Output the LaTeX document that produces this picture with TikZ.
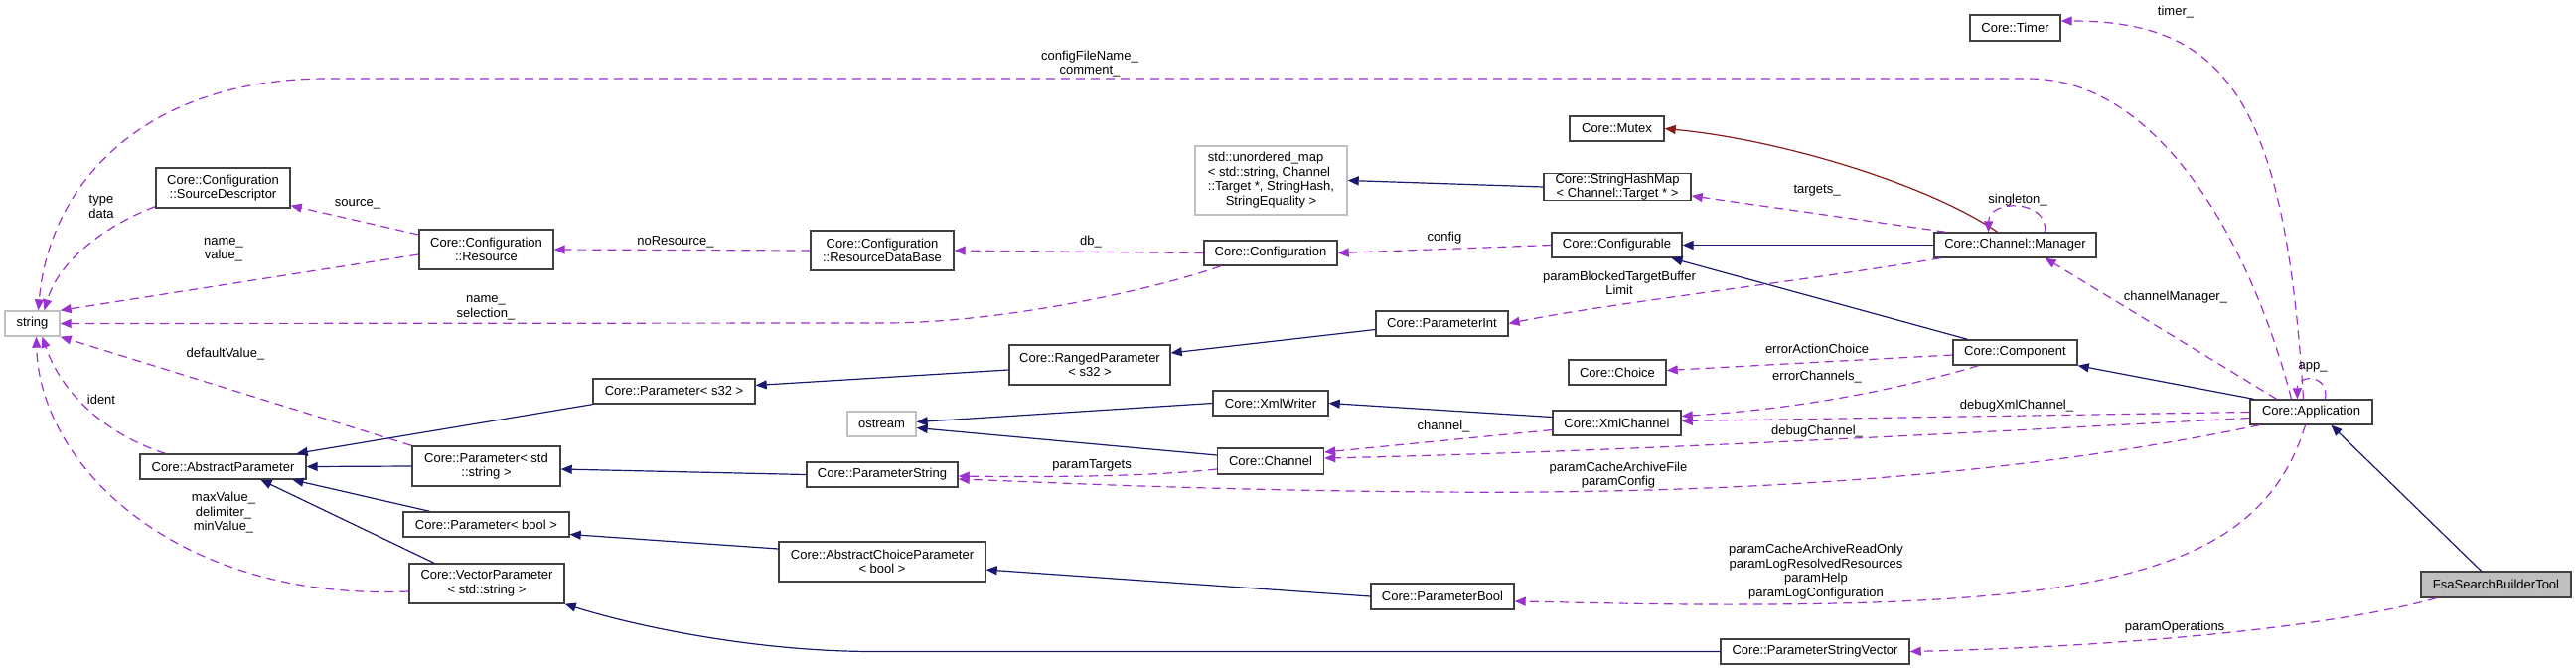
\documentclass[tikz,border=0pt]{standalone}
\usepackage{fontspec}
\setmainfont{Liberation Sans}
\usetikzlibrary{arrows.meta}
\definecolor{inhblue}{HTML}{191970}
\definecolor{usepurple}{HTML}{9A32CD}
\definecolor{privred}{HTML}{8B1A1A}
\definecolor{extgray}{HTML}{BFBFBF}
\definecolor{boxline}{HTML}{404040}

\begin{document}
\begin{tikzpicture}[
    x=1pt, y=-1pt,
    font=\fontsize{13}{14.5}\selectfont,
    cls/.style={draw=boxline, line width=1.4pt, fill=white, inner sep=0pt,
        align=center, minimum height=25pt},
    cls2/.style={cls, minimum height=40pt},
    ext/.style={cls, draw=extgray},
    lbl/.style={inner sep=0pt, align=center},
    inherit/.style={draw=inhblue, line width=1.2pt, -{Triangle[length=11pt,width=9pt]}},
    privinh/.style={inherit, draw=privred},
    uses/.style={draw=usepurple, line width=1.2pt, dash pattern=on 9pt off 6pt,
        -{Triangle[length=11pt,width=9pt]}},
]
\useasboundingbox (0,0) rectangle (2593,675);

% External classes
\node[ext, minimum width=55pt] (stdstring) at (32.5, 325.5) {string};
\node[ext, minimum width=69pt] (ostream) at (887.5, 426.5) {ostream};
\node[ext, minimum width=153pt, minimum height=69pt] (umap) at (1279.5, 181.5)
    {\begin{tabular}{@{}l@{}}std::unordered\_map\\< std::string, Channel\\::Target *, StringHash,\\\multicolumn{1}{@{}c@{}}{StringEquality >}\end{tabular}};

% Configuration
\node[cls2, minimum width=135pt] (srcdesc) at (224.5, 189) {Core::Configuration\\::SourceDescriptor};
\node[cls2, minimum width=135pt] (resource) at (489.5, 251) {Core::Configuration\\::Resource};
\node[cls2, minimum width=144pt] (resdb) at (888, 252) {Core::Configuration\\::ResourceDataBase};
\node[cls, minimum width=134pt] (configuration) at (1279, 254.5) {Core::Configuration};
\node[cls, minimum width=131pt] (configurable) at (1627.5, 246.5) {Core::Configurable};

% Parameters
\node[cls, minimum width=167pt] (absparam) at (224.5, 469.5) {Core::AbstractParameter};
\node[cls, minimum width=163pt] (params32) at (678.5, 393.5) {Core::Parameter< s32 >};
\node[cls2, minimum width=149pt] (paramstdstr) at (489.5, 469) {Core::Parameter< std\\::string >};
\node[cls, minimum width=167pt] (parambool) at (489.5, 527.5) {Core::Parameter< bool >};
\node[cls2, minimum width=156pt] (vecparam) at (490, 587) {Core::VectorParameter\\< std::string >};
\node[cls2, minimum width=162pt] (ranged) at (1097, 367) {Core::RangedParameter\\< s32 >};
\node[cls, minimum width=133pt] (paramint) at (1451.5, 325.5) {Core::ParameterInt};
\node[cls, minimum width=152pt] (paramstring) at (888, 477.5) {Core::ParameterString};
\node[cls2, minimum width=208pt] (abschoice) at (888, 565) {Core::AbstractChoiceParameter\\< bool >};
\node[cls, minimum width=144pt, minimum height=26pt] (paramboolc) at (1452, 600) {Core::ParameterBool};
\node[cls, minimum width=190pt] (pstrvec) at (1827, 655.5) {Core::ParameterStringVector};

% Channels
\node[cls, minimum width=116pt] (xmlwriter) at (1279, 405.5) {Core::XmlWriter};
\node[cls, minimum width=107pt, minimum height=26pt] (channel) at (1279, 464) {Core::Channel};
\node[cls, minimum width=129pt] (xmlchannel) at (1627.5, 425.5) {Core::XmlChannel};
\node[cls, minimum width=148pt] (shmap) at (1628, 188) {Core::StringHashMap\\< Channel::Target * >};
\node[cls, minimum width=95pt] (mutex) at (1627.5, 129.5) {Core::Mutex};
\node[cls, minimum width=163pt] (manager) at (2028.5, 246.5) {Core::Channel::Manager};

% Application
\node[cls, minimum width=98pt] (choice) at (1628, 374.5) {Core::Choice};
\node[cls, minimum width=125pt] (component) at (2028.5, 354.5) {Core::Component};
\node[cls, minimum width=91pt, minimum height=26pt] (timer) at (2028.5, 28) {Core::Timer};
\node[cls, minimum width=123pt] (app) at (2326.5, 414.5) {Core::Application};
\node[cls, fill=extgray, minimum width=151pt, minimum height=26pt] (fsa) at (2512.5, 588) {FsaSearchBuilderTool};

% Inheritance
\draw[inherit] ([xshift=-15pt]fsa.north) -- ([xshift=20pt]app.south);
\draw[inherit] ([xshift=-58pt]app.north) -- (component.south east);
\draw[inherit] ([xshift=-48pt]component.north) -- ([xshift=55pt]configurable.south);
\draw[inherit] (manager.west) -- (configurable.east);
\draw[privinh] ([xshift=-18pt]manager.north) .. controls (1940,185) and (1790,140) .. (mutex.east);
\draw[inherit] (shmap.west) -- (umap.east);
\draw[inherit] ([yshift=-6pt]paramint.west) -- ([yshift=12pt]ranged.east);
\draw[inherit] ([yshift=-5pt]ranged.west) -- ([yshift=6pt]params32.east);
\draw[inherit] (params32.south west) -- ([xshift=-10pt]absparam.north east);
\draw[inherit] (paramstdstr.west) -- (absparam.east);
\draw[inherit] (paramstring.west) -- ([yshift=-3pt]paramstdstr.east);
\draw[inherit] ([xshift=-57pt]parambool.north) -- ([xshift=70pt]absparam.south);
\draw[inherit] ([xshift=-53pt]vecparam.north) -- ([xshift=38pt]absparam.south);
\draw[inherit] ([yshift=13pt]abschoice.west) -- ([yshift=-10pt]parambool.east);
\draw[inherit] (paramboolc.west) -- ([yshift=-8pt]abschoice.east);
\draw[inherit] (pstrvec.west) -- (880,655.5) .. controls (760,655.5) and (640,630) .. (vecparam.south east);
\draw[inherit] (xmlwriter.west) -- ([yshift=2pt]ostream.east);
\draw[inherit] ([yshift=6pt]channel.west) -- ([yshift=-4pt]ostream.east);
\draw[inherit] ([yshift=6pt]xmlchannel.west) -- (xmlwriter.east);

% Members
\draw[uses] ([xshift=-8pt]app.north) .. controls (2300,100) and (2240,21) .. ([yshift=7pt]timer.east);
\draw[uses] ([xshift=-20pt]app.north) .. controls (2270,260) and (2180,79) .. (2041,79)
    -- (330,79) .. controls (150,79) and (50,180) .. ([xshift=6pt]stdstring.north);
\draw[uses] ([xshift=-35pt]app.north) -- ([xshift=30pt]manager.south);
\draw[uses] ([xshift=14pt]app.north) .. controls (2345,376) and (2312,376) .. ([xshift=-14pt]app.north);
\draw[uses] ([xshift=30pt]manager.north) .. controls (2062,200) and (2002,200) .. ([xshift=-27pt]manager.north);
\draw[uses] ([xshift=-70pt]manager.north) -- ([yshift=-9pt]shmap.east);
\draw[uses] ([xshift=-75pt]manager.south) .. controls (1800,285) and (1620,305) .. (paramint.east);
\draw[uses] (configurable.west) -- (configuration.east);
\draw[uses] (configuration.west) -- (resdb.east);
\draw[uses] (resdb.west) -- (resource.east);
\draw[uses] ([yshift=15pt]resource.west) -- ([yshift=3pt]srcdesc.south east);
\draw[uses] ([yshift=-5pt]resource.west) -- (stdstring.north east);
\draw[uses] ([yshift=2pt]srcdesc.south west) .. controls (110,225) and (60,260) .. ([xshift=12pt]stdstring.north);
\draw[uses] ([xshift=-50pt]configuration.south) .. controls (1150,295) and (1000,325) .. (890,325)
    -- (stdstring.east);
\draw[uses] (paramstdstr.north west) -- (stdstring.south east);
\draw[uses] ([xshift=-58pt]absparam.north) .. controls (100,435) and (60,390) .. ([xshift=10pt]stdstring.south);
\draw[uses] ([yshift=-8pt]vecparam.west) .. controls (180,605) and (40,470) .. ([xshift=4pt]stdstring.south);
\draw[uses] ([yshift=-8pt]channel.west) .. controls (1150,480) and (1050,480) .. ([yshift=-1.5pt]paramstring.east);
\draw[uses] ([yshift=-7pt]xmlchannel.west) -- ([yshift=9pt]channel.east);
\draw[uses] ([yshift=-2.5pt]component.west) -- ([yshift=2pt]choice.east);
\draw[uses] ([xshift=-37pt]component.south) .. controls (1900,395) and (1800,412) .. ([yshift=7pt]xmlchannel.east);
\draw[uses] (app.west) -- ([yshift=2pt]xmlchannel.east);
\draw[uses] ([yshift=-6pt]app.west) .. controls (1900,440) and (1600,455) .. ([yshift=3pt]channel.east);
\draw[uses] ([xshift=10pt]app.south west) .. controls (2000,485) and (1700,497) .. (1450,495)
    .. controls (1200,493) and (1050,485) .. ([yshift=-4.5pt]paramstring.east);
\draw[uses] ([xshift=-6pt]app.south) .. controls (2280,560) and (2150,600) .. (1850,607)
    .. controls (1700,610) and (1600,606) .. ([yshift=-5pt]paramboolc.east);
\draw[uses] ([xshift=-60pt]fsa.south) .. controls (2350,630) and (2150,650) .. (pstrvec.east);

% Member names
\node[lbl] (ltimer) at (2190, 12) {timer\_};
\node[lbl] (lcfgfile) at (1097, 64) {configFileName\_\\comment\_};
\node[lbl] (lchman) at (2190, 299) {channelManager\_};
\node[lbl] (lapp) at (2328, 369) {app\_};
\node[lbl] (lsingle) at (2031, 201) {singleton\_};
\node[lbl] (ltargets) at (1829, 192) {targets\_};
\node[lbl] (lblocked) at (1630, 285) {paramBlockedTargetBuffer\\Limit};
\node[lbl] (lconfig) at (1454, 239) {config};
\node[lbl] (ldb) at (1098, 243) {db\_};
\node[lbl] (lnores) at (680, 243) {noResource\_};
\node[lbl] (lsource) at (360, 205) {source\_};
\node[lbl] (lnamevalue) at (225, 251.5) {name\_\\value\_};
\node[lbl] (ltypedata) at (102, 208) {type\\data};
\node[lbl] (lnamesel) at (489, 310) {name\_\\selection\_};
\node[lbl] (ldefault) at (227, 356) {defaultValue\_};
\node[lbl] (lident) at (102, 402) {ident};
\node[lbl] (lmaxval) at (225, 516) {maxValue\_\\delimiter\_\\minValue\_};
\node[lbl] (lptargets) at (1099, 468) {paramTargets};
\node[lbl] (lchannel) at (1453, 429) {channel\_};
\node[lbl] (lerract) at (1829, 351) {errorActionChoice};
\node[lbl] (lerrch) at (1829, 379) {errorChannels\_};
\node[lbl] (ldbgxml) at (2030, 408) {debugXmlChannel\_};
\node[lbl] (ldbgch) at (1829, 434) {debugChannel\_};
\node[lbl] (lcachefile) at (1629, 478) {paramCacheArchiveFile\\paramConfig};
\node[lbl] (lreadonly) at (1828, 575) {paramCacheArchiveReadOnly\\paramLogResolvedResources\\paramHelp\\paramLogConfiguration};
\node[lbl] (lparamops) at (2189, 631) {paramOperations};

\end{tikzpicture}
\end{document}
